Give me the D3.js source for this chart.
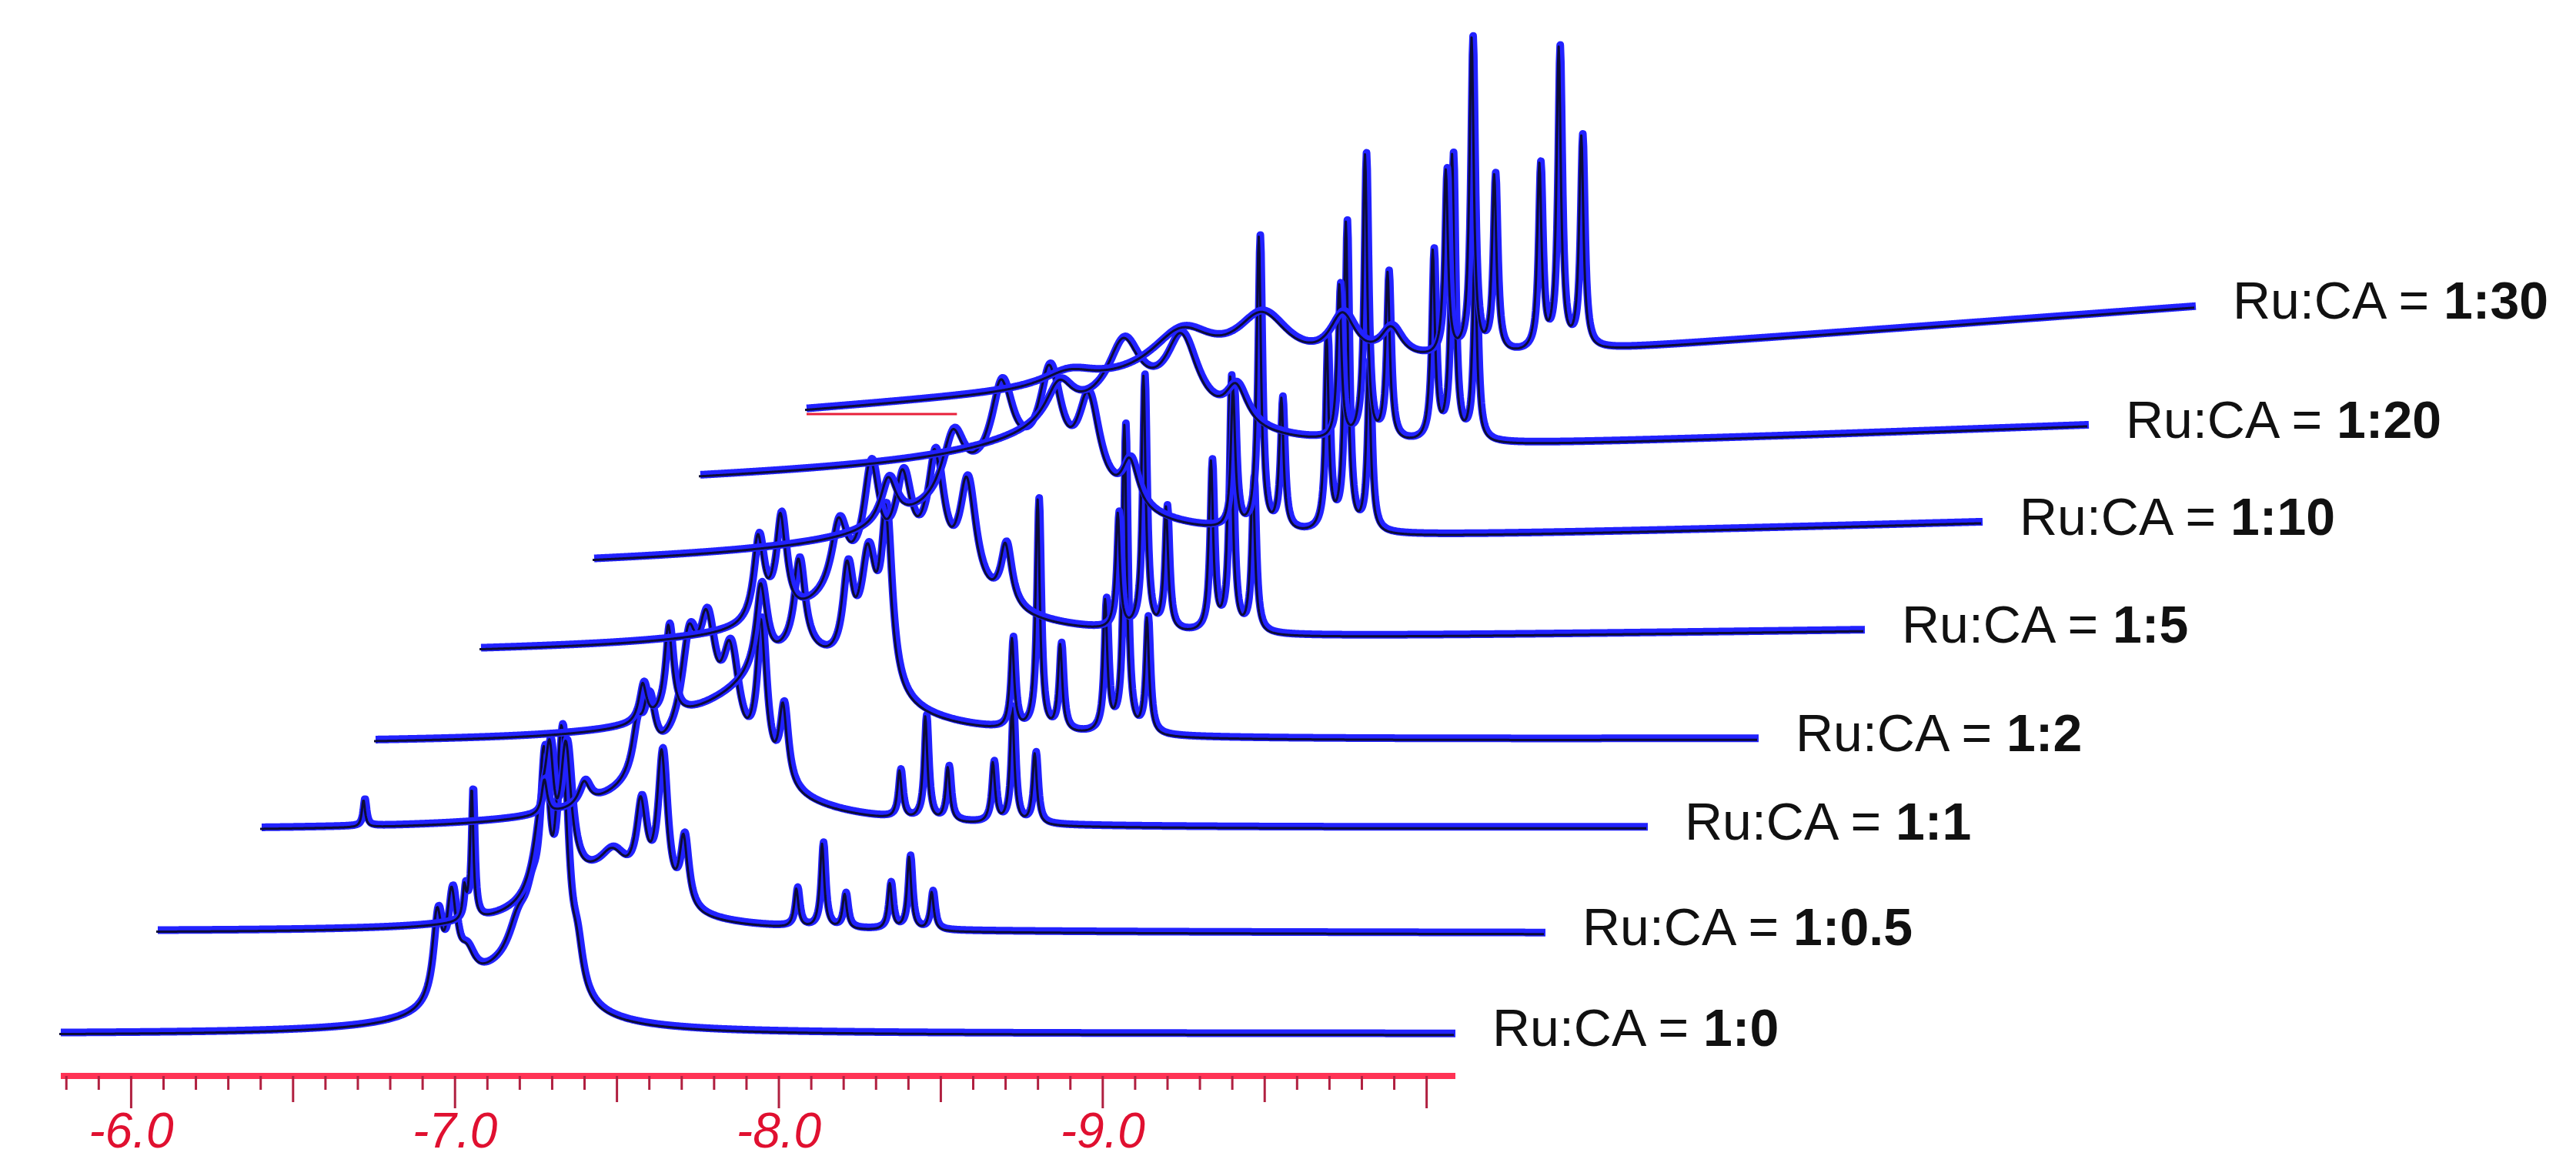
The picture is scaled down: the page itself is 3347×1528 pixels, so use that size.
<!DOCTYPE html>
<html>
<head>
<meta charset="utf-8">
<script src="https://cdn.jsdelivr.net/npm/d3@7"></script>
<style>
  body { margin: 0; background: #fff; }
  svg { display: block; }
</style>
</head>
<body>
<svg id="svg" width="3347" height="1528"></svg>
<script>
// ratios, bottom to top
const ratios = ['1:0', '1:0.5', '1:1', '1:2', '1:5', '1:10', '1:20', '1:30']

// chemical shift range shown (ppm, plotted as positive, labelled negative)
const ppmRange = [5.784, 10.09]
const axisLabels = [6, 7, 8, 9]

// CA multiplet positions (ppm) and heights read per spectrum
const caShifts = [7.77, 7.85, 7.92, 8.06, 8.12, 8.19]
const caHeights = [
  [0, 0, 0, 0, 0, 0],
  [50, 110, 45, 60, 95, 50],
  [62, 135, 70, 78, 150, 92],
  [117, 300, 112, 170, 400, 150],
  [150, 330, 160, 220, 330, 200],
  [180, 380, 170, 250, 400, 220],
  [200, 370, 217, 245, 370, 240],
  [240, 410, 230, 240, 390, 275]
]

// Ru complex signals: [ppm, height, half width]
const ruPeaks = [
  [[6.95, 110, 0.018], [6.995, 120, 0.018], [7.04, 40, 0.03], [7.2, 60, 0.04], [7.24, 60, 0.025], [7.28, 260, 0.02], [7.335, 320, 0.02], [7.38, 50, 0.02], [7.15, 70, 0.18]],
  [[6.74, 40, 0.006], [6.763, 170, 0.006], [6.98, 110, 0.03], [7.005, 120, 0.015], [7.055, 170, 0.02], [7.2, 40, 0.05], [7.287, 110, 0.02], [7.352, 190, 0.018], [7.42, 90, 0.015], [7.15, 60, 0.2]],
  [[6.105, 35, 0.006], [6.667, 45, 0.01], [6.79, 30, 0.02], [6.954, 60, 0.02], [6.99, 80, 0.02], [7.114, 120, 0.03], [7.17, 130, 0.03], [7.243, 120, 0.03], [7.339, 190, 0.018], [7.408, 100, 0.015], [7.15, 110, 0.22]],
  [[6.62, 50, 0.015], [6.7, 120, 0.015], [6.987, 110, 0.02], [7.105, 120, 0.02], [7.256, 120, 0.02], [7.32, 160, 0.03], [7.376, 220, 0.02], [7.1, 110, 0.25]],
  [[6.65, 110, 0.02], [6.72, 130, 0.02], [6.9, 90, 0.03], [7.0, 140, 0.03], [7.1, 110, 0.03], [7.2, 150, 0.03], [7.3, 140, 0.03], [7.42, 80, 0.02], [7.1, 90, 0.28]],
  [[6.7, 60, 0.03], [6.9, 80, 0.04], [7.05, 110, 0.04], [7.2, 130, 0.04], [7.32, 120, 0.04], [7.45, 60, 0.03], [7.1, 100, 0.3]],
  [[6.9, 50, 0.05], [7.1, 80, 0.06], [7.28, 100, 0.06], [7.45, 50, 0.04], [7.1, 70, 0.35]],
  [[6.6, 20, 0.1], [6.95, 60, 0.12], [7.2, 70, 0.1], [7.45, 60, 0.05], [7.6, 40, 0.04]]
]

// stacking: where each trace starts / ends on the page and its baseline
const traceLeft = [79, 205, 340, 488, 625, 772, 910, 1048]
const traceRight = [1891, 2008, 2141, 2285, 2423, 2576, 2714, 2853]
const baseLeft = [1343, 1210, 1078, 965, 846, 731, 622, 532]
const baseRight = [1343, 1212, 1075, 960, 819, 679, 553, 398]

const svg = d3.select('#svg')
const caWidth = 0.008
const font = "'Liberation Sans Narrow', 'Liberation Sans', Arial, sans-serif"

const intensity = (i, p) => {
  let h = 0
  ruPeaks[i].forEach(([c, a, w]) => { h += a / (1 + ((p - c) / w) ** 2) })
  caShifts.forEach((c, k) => { h += caHeights[i][k] / (1 + ((p - c) / caWidth) ** 2) })
  return h
}

const ppmGrid = d3.range(ppmRange[0], ppmRange[1] + 0.0001, 0.002)

ratios.forEach((r, i) => {
  const x = d3.scaleLinear().domain(ppmRange).range([traceLeft[i], traceRight[i]])
  const base = d3.scaleLinear().domain(ppmRange).range([baseLeft[i], baseRight[i]])
  const line = d3.line()
    .x(p => x(p))
    .y(p => base(p) - intensity(i, p))
  const g = svg.append('g')
  g.append('path').attr('d', line(ppmGrid))
    .attr('fill', 'none').attr('stroke', '#2222ff').attr('stroke-width', 10)
    .attr('stroke-linejoin', 'round')
  g.append('path').attr('d', line(ppmGrid))
    .attr('transform', 'translate(-2,2)')
    .attr('fill', 'none').attr('stroke', '#0c0c38').attr('stroke-width', 3)
    .attr('stroke-linejoin', 'round')

  const label = svg.append('text')
    .attr('x', traceRight[i] + 48)
    .attr('y', baseRight[i] - 8)
    .attr('dominant-baseline', 'central')
    .attr('font-family', font)
    .attr('font-size', 68)
    .attr('fill', '#111')
  label.append('tspan').text('Ru:CA = ')
  label.append('tspan').attr('font-weight', 'bold').text(r)
})

// red mark under the top trace start
const topX = d3.scaleLinear().domain(ppmRange).range([traceLeft[7], traceRight[7]])
svg.append('line')
  .attr('x1', topX(5.784)).attr('x2', topX(6.25))
  .attr('y1', baseLeft[7] + 6).attr('y2', baseLeft[7] + 6)
  .attr('stroke', '#e8203a').attr('stroke-width', 3)

// ppm axis
const xAxisScale = d3.scaleLinear().domain(ppmRange).range([traceLeft[0], traceRight[0]])
const tickVals = d3.range(58, 101).map(v => v / 10)
const xAxis = d3.axisBottom(xAxisScale)
  .tickValues(tickVals)
  .tickSize(14)
  .tickFormat(d => axisLabels.includes(Math.round(d * 10) / 10) ? '-' + d.toFixed(1) : '')

const axisG = svg.append('g')
  .attr('transform', 'translate(0, 1398)')
  .call(xAxis)

axisG.select('.domain')
  .attr('stroke', '#ff3355').attr('stroke-width', 8)
  .attr('d', `M${traceLeft[0]},0H${traceRight[0]}`)
axisG.selectAll('.tick line')
  .attr('stroke', '#b02040').attr('stroke-width', 3)
  .attr('y2', d => {
    const t = Math.round(d * 10)
    return t % 10 === 0 ? 42 : t % 5 === 0 ? 34 : 18
  })
axisG.selectAll('.tick text')
  .attr('y', 48)
  .attr('dy', '0.71em')
  .attr('font-family', font)
  .attr('font-style', 'italic')
  .attr('font-size', 64)
  .attr('fill', '#e01030')
</script>
</body>
</html>
